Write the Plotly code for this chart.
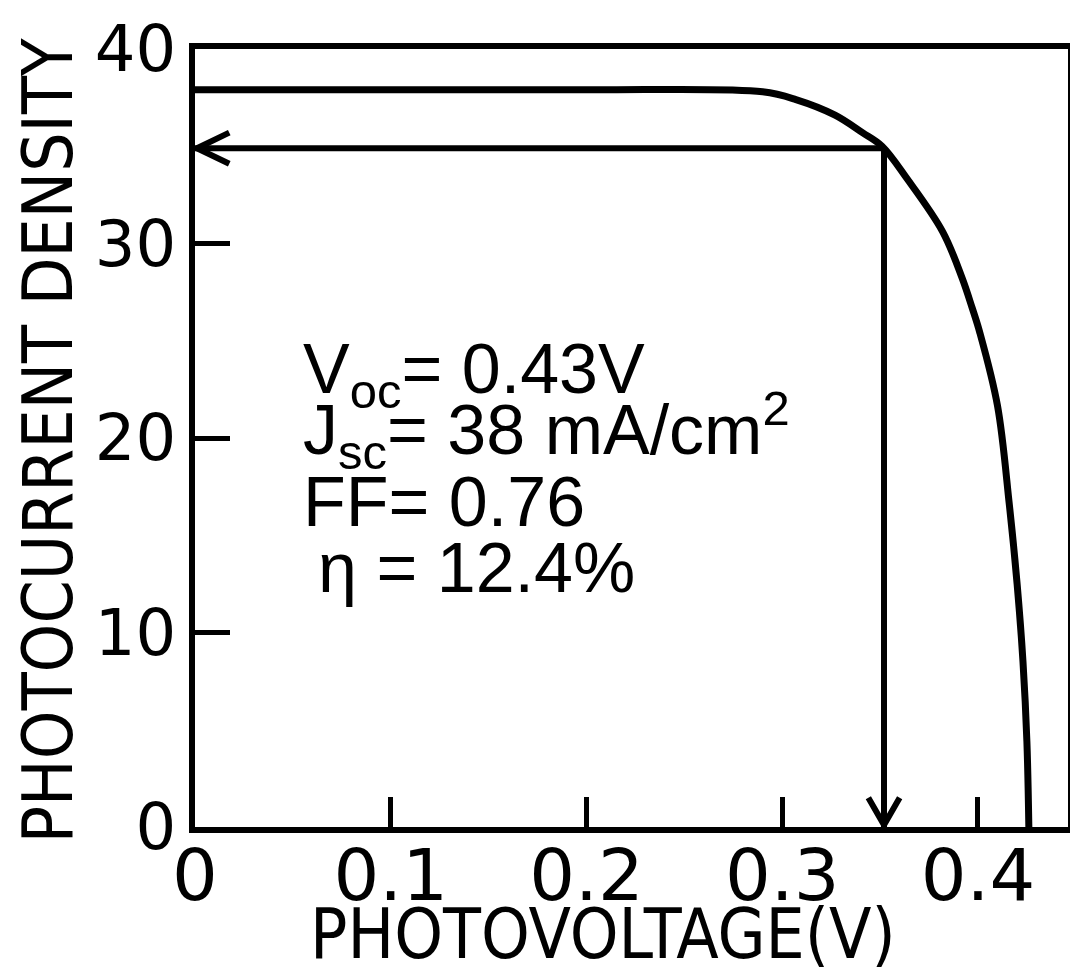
import plotly.graph_objects as go

# ---- data ----
voltage = [0.0, 0.10, 0.20, 0.29, 0.307, 0.327, 0.341, 0.351, 0.364, 0.382,
           0.392, 0.397, 0.401, 0.410, 0.416, 0.420, 0.423, 0.425, 0.426]
current_density = [37.9, 37.9, 37.9, 37.8, 37.4, 36.6, 35.7, 35.0, 33.3, 30.6,
                   28.2, 26.7, 25.4, 21.65, 16.6, 12.5, 8.5, 4.4, 0.0]

max_power_voltage = 0.352
max_power_current = 34.9

x_tickvals = [0, 0.1, 0.2, 0.3, 0.4]
x_ticktext = ["0", "0.1", "0.2", "0.3", "0.4"]
y_tickvals = [0, 10, 20, 30, 40]
y_ticktext = ["0", "10", "20", "30", "40"]

param_lines = ["V<sub>oc</sub>= 0.43V",
               "J<sub>sc</sub>= 38 mA/cm<sup>2</sup>",
               "FF= 0.76",
               "η = 12.4%"]
param_x = [0.054, 0.054, 0.054, 0.062]
param_y = [23.3, 20.4, 16.7, 13.3]

x_title = "PHOTOVOLTAGE(V)"
y_title = "PHOTOCURRENT DENSITY"

# ---- style ----
BLACK = "black"
TICK_FONT = "DejaVu Sans"
TITLE_FONT = "Liberation Sans Narrow, DejaVu Sans Condensed, Arial Narrow, sans-serif"
TEXT_FONT = "Liberation Sans, Arial, sans-serif"
head_dx = 0.0175   # arrowhead half-size along x (data units)
head_dy = 0.8      # arrowhead half-size along y (data units)

fig = go.Figure()

# J-V curve
fig.add_trace(go.Scatter(x=voltage, y=current_density, mode="lines",
                         line=dict(color=BLACK, width=7, shape="spline", smoothing=1.0),
                         hoverinfo="skip", showlegend=False))

# horizontal arrow to the current axis
fig.add_trace(go.Scatter(x=[max_power_voltage, 0.0], y=[max_power_current, max_power_current],
                         mode="lines", line=dict(color=BLACK, width=6),
                         hoverinfo="skip", showlegend=False))
fig.add_trace(go.Scatter(x=[head_dx, 0.001, head_dx],
                         y=[max_power_current + head_dy, max_power_current, max_power_current - head_dy],
                         mode="lines", line=dict(color=BLACK, width=6),
                         hoverinfo="skip", showlegend=False))

# vertical arrow to the voltage axis
fig.add_trace(go.Scatter(x=[max_power_voltage, max_power_voltage], y=[max_power_current, 0.0],
                         mode="lines", line=dict(color=BLACK, width=6),
                         hoverinfo="skip", showlegend=False))
fig.add_trace(go.Scatter(x=[max_power_voltage - 0.008, max_power_voltage, max_power_voltage + 0.008],
                         y=[1.5, 0.1, 1.5],
                         mode="lines", line=dict(color=BLACK, width=6),
                         hoverinfo="skip", showlegend=False))

annotations = []
for txt, xv, yv in zip(param_lines, param_x, param_y):
    annotations.append(dict(x=xv, y=yv, xref="x", yref="y", text=txt, showarrow=False,
                            xanchor="left", yanchor="middle",
                            font=dict(family=TEXT_FONT, size=70, color=BLACK)))

annotations.append(dict(x=0.4676, y=-0.137, xref="paper", yref="paper", text=x_title,
                        showarrow=False, xanchor="center", yanchor="middle",
                        font=dict(family=TITLE_FONT, size=69, color=BLACK)))
annotations.append(dict(x=-0.1684, y=0.497, xref="paper", yref="paper", text=y_title,
                        showarrow=False, xanchor="center", yanchor="middle", textangle=-90,
                        font=dict(family=TITLE_FONT, size=69, color=BLACK)))

# the page body has an 8px margin, so the figure is 8px smaller and margins shifted
fig.update_layout(
    width=1070, height=963,
    margin=dict(l=187, r=4, t=30, b=144),
    paper_bgcolor="white", plot_bgcolor="white",
    showlegend=False,
    annotations=annotations,
    xaxis=dict(range=[0, 0.446], tickvals=x_tickvals, ticktext=x_ticktext,
               ticks="inside", ticklen=30, tickwidth=5, tickcolor=BLACK,
               showline=True, linewidth=6, linecolor=BLACK, mirror=True,
               showgrid=False, zeroline=False, ticklabelstandoff=-19,
               ticklabeloverflow="allow",
               tickfont=dict(family=TICK_FONT, size=72, color=BLACK)),
    yaxis=dict(range=[0, 40], tickvals=y_tickvals, ticktext=y_ticktext,
               ticks="inside", ticklen=35, tickwidth=5, tickcolor=BLACK,
               showline=True, linewidth=6, linecolor=BLACK, mirror=True,
               showgrid=False, zeroline=False, ticklabeloverflow="allow",
               tickfont=dict(family=TICK_FONT, size=64, color=BLACK)),
)

fig.write_html("out.html")
